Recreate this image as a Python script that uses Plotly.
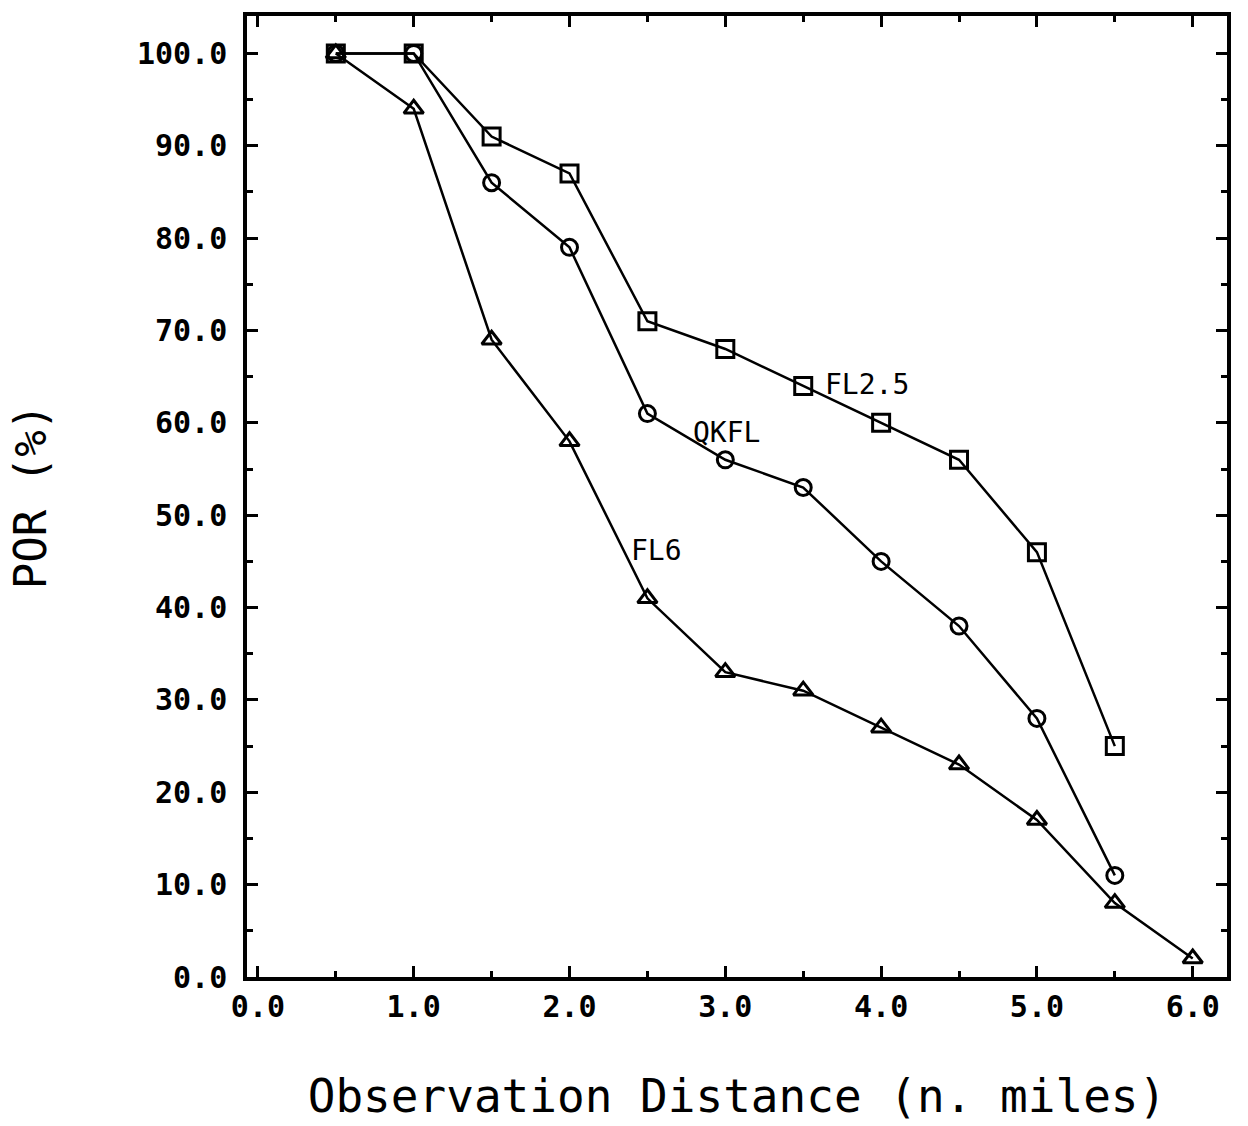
import plotly.graph_objects as go

distance = [0.5, 1.0, 1.5, 2.0, 2.5, 3.0, 3.5, 4.0, 4.5, 5.0, 5.5]
distance_fl6 = [0.5, 1.0, 1.5, 2.0, 2.5, 3.0, 3.5, 4.0, 4.5, 5.0, 5.5, 6.0]
por_fl25 = [100, 100, 91, 87, 71, 68, 64, 60, 56, 46, 25]
por_qkfl = [100, 100, 86, 79, 61, 56, 53, 45, 38, 28, 11]
por_fl6 = [100, 94, 69, 58, 41, 33, 31, 27, 23, 17, 8, 2]

labels = ["FL2.5", "QKFL", "FL6"]
label_x = [3.63, 2.78, 2.38]
label_y = [64.2, 59.0, 46.2]

MONO = "DejaVu Sans Mono"

fig = go.Figure()
line = dict(color="black", width=2.5)
fig.add_trace(go.Scatter(x=distance, y=por_fl25, mode="lines+markers", line=line,
                         marker=dict(symbol="square-open", size=17, color="black",
                                     line=dict(width=3, color="black"))))
fig.add_trace(go.Scatter(x=distance, y=por_qkfl, mode="lines+markers", line=line,
                         marker=dict(symbol="circle-open", size=16, color="black",
                                     line=dict(width=3, color="black"))))
fig.add_trace(go.Scatter(x=distance_fl6, y=por_fl6, mode="lines+markers", line=line,
                         marker=dict(symbol="triangle-up-open", size=17, color="black",
                                     line=dict(width=3, color="black"))))

for t, x, y in zip(labels, label_x, label_y):
    fig.add_annotation(x=x, y=y, text=t, showarrow=False, xanchor="left", yanchor="middle",
                       font=dict(family=MONO, size=28, color="black"))

axis_common = dict(
    showline=True, linecolor="black", linewidth=3.5, mirror="ticks",
    ticks="inside", ticklen=11, tickwidth=2.5, tickcolor="black",
    showgrid=False, zeroline=False, tickformat=".1f",
    tickfont=dict(family=MONO, size=30, color="black", weight="bold"),
)

fig.update_layout(
    width=1248, height=1126,
    paper_bgcolor="white", plot_bgcolor="white",
    showlegend=False,
    margin=dict(l=247, r=21, t=12, b=144),
    xaxis=dict(range=[-0.07, 6.22], dtick=1.0, tick0=0,
               minor=dict(dtick=0.5, ticks="inside", ticklen=6, tickwidth=2.5, tickcolor="black"),
               title=dict(text="Observation Distance (n. miles)", standoff=58,
                          font=dict(family=MONO, size=46, color="black")),
               **axis_common),
    yaxis=dict(range=[0, 104.05], dtick=10, tick0=0,
               minor=dict(dtick=5, ticks="inside", ticklen=6, tickwidth=2.5, tickcolor="black"),
               title=dict(text="POR (%)", standoff=78,
                          font=dict(family=MONO, size=44, color="black")),
               ticklabelstandoff=10,
               **axis_common),
)

fig.write_html("out.html")
